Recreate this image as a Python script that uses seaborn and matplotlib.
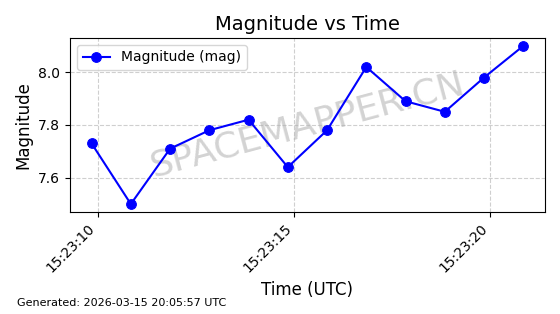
import matplotlib
matplotlib.use("Agg")
import matplotlib.pyplot as plt
import matplotlib.dates as mdates
import seaborn as sns
import pandas as pd

times = ["2026-03-15 15:23:09.84", "2026-03-15 15:23:10.84", "2026-03-15 15:23:11.84",
         "2026-03-15 15:23:12.84", "2026-03-15 15:23:13.84", "2026-03-15 15:23:14.84",
         "2026-03-15 15:23:15.84", "2026-03-15 15:23:16.84", "2026-03-15 15:23:17.84",
         "2026-03-15 15:23:18.84", "2026-03-15 15:23:19.84", "2026-03-15 15:23:20.84"]
magnitudes = [7.73, 7.50, 7.71, 7.78, 7.82, 7.64, 7.78, 8.02, 7.89, 7.85, 7.98, 8.10]

df = pd.DataFrame({"time": pd.to_datetime(times), "mag": magnitudes})

fig = plt.figure(figsize=(5.6, 3.14), dpi=100)
ax = fig.add_axes([0.125, 0.325, 0.848, 0.554])

ax.text(0.5, 0.5, "SPACEMAPPER.CN", transform=ax.transAxes, fontsize=26,
        color="gray", alpha=0.35, rotation=15, ha="center", va="center", zorder=0)

sns.lineplot(data=df, x="time", y="mag", ax=ax, color="blue", marker="o",
             markersize=7, markeredgecolor="blue", linewidth=1.5,
             label="Magnitude (mag)", zorder=3)

ax.set_title("Magnitude vs Time", fontsize=14)
ax.set_xlabel("Time (UTC)", fontsize=12)
ax.set_ylabel("Magnitude", fontsize=12)
ax.xaxis.set_major_locator(mdates.SecondLocator(bysecond=range(0, 60, 5)))
ax.xaxis.set_major_formatter(mdates.DateFormatter("%H:%M:%S"))
ax.set_yticks([7.6, 7.8, 8.0])
plt.setp(ax.get_xticklabels(), rotation=45, ha="right")
ax.grid(True, linestyle="--", alpha=0.6)
ax.legend(loc="upper left")

fig.text(0.03, 0.025, "Generated: 2026-03-15 20:05:57 UTC", fontsize=8)

fig.savefig("out.png", dpi=100)
